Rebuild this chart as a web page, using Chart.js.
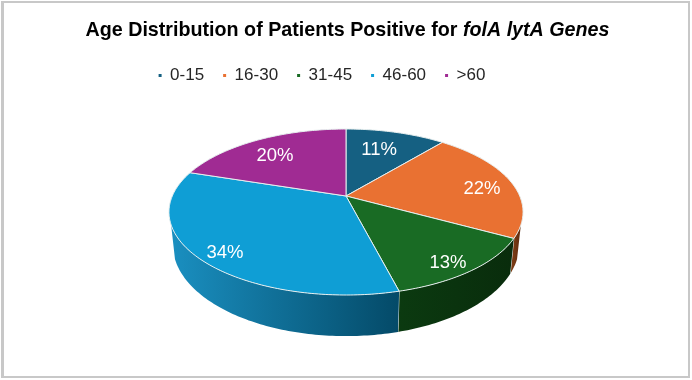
<!DOCTYPE html>
<html>
<head>
<meta charset="utf-8">
<script src="https://cdn.jsdelivr.net/npm/chart.js@4"></script>
<style>
  html, body { margin: 0; padding: 0; background: #fff; }
  #frame { position: absolute; left: 1px; top: 1px; width: 684px; height: 373px; border: solid #c8c8c8; border-width: 2px 2px 2px 3px; }
  #c { position: absolute; left: 0; top: 0; }
</style>
</head>
<body>
<div id="frame"></div>
<canvas id="c" width="692" height="380"></canvas>
<script>
const titleParts = ['Age Distribution of Patients Positive for ', 'folA lytA Genes'];
const ageGroups = ['0-15', '16-30', '31-45', '46-60', '>60'];
const patientShare = [11, 22, 13, 34, 20];
const sliceColors = ['#156082', '#E97132', '#196B24', '#0F9ED5', '#A02B93'];
// side wall gradient, light end on the left
const wallColors = [
    ['#156082', '#0a3a50'],
    ['#7a3a14', '#5c2a0e'],
    ['#0b3a10', '#092c0c'],
    ['#1a8fc0', '#044a68'],
    ['#A02B93', '#601a58']
];
// where each percent label sits: fraction of the radius, degrees off the slice middle
const labelRadius = [0.69, 0.803, 0.878, 0.873, 0.722];
const labelTurn = [-1.7, 4, 2.6, -2.2, -2.9];

// perspective of the tilted disc, fitted to the picture
const tilt = { cx: 346, cy: 196, a: 173.7, b: 79.9, k: 0.193 };
const base = { dy: 31.4, sx: 0.978, sy: 1.098 };
const wallFrom = 109.8 * Math.PI / 180 - Math.PI / 2;
const wallTo = 250.2 * Math.PI / 180 - Math.PI / 2;

function project(angle, r, face) {
    const u = Math.cos(angle) * r, v = Math.sin(angle) * r;
    const d = 1 - tilt.k * v;
    const sx = face ? base.sx : 1, sy = face ? base.sy : 1, dy = face ? base.dy : 0;
    return { x: tilt.cx + sx * tilt.a * u / d, y: tilt.cy + dy + sy * tilt.b * v / d };
}

function traceEdge(ctx, from, to, face, first) {
    const steps = Math.max(2, Math.ceil(Math.abs(to - from) * 60));
    for (let i = 0; i <= steps; i++) {
        const p = project(from + (to - from) * i / steps, 1, face);
        if (i === 0 && first) ctx.moveTo(p.x, p.y); else ctx.lineTo(p.x, p.y);
    }
}

const tiltedPie = {
    id: 'tiltedPie',
    beforeDatasetsDraw(chart) {
        const ctx = chart.ctx;
        const arcs = chart.getDatasetMeta(0).data;
        ctx.save();
        // side wall first, only the part facing the viewer
        arcs.forEach((arc, i) => {
            const from = Math.max(arc.startAngle, wallFrom), to = Math.min(arc.endAngle, wallTo);
            if (from >= to) return;
            const a = project(from, 1, false), b = project(to, 1, false);
            const g = ctx.createLinearGradient(Math.min(a.x, b.x), 0, Math.max(a.x, b.x), 0);
            g.addColorStop(0, wallColors[i][0]);
            g.addColorStop(1, wallColors[i][1]);
            ctx.beginPath();
            traceEdge(ctx, from, to, false, true);
            traceEdge(ctx, to, from, true, false);
            ctx.closePath();
            ctx.fillStyle = g;
            ctx.fill();
            // seam between wall pieces
            if (to < wallTo) {
                const c = project(to, 1, true);
                ctx.beginPath();
                ctx.moveTo(b.x, b.y);
                ctx.lineTo(c.x, c.y);
                ctx.strokeStyle = '#dfe8e8';
                ctx.lineWidth = 1;
                ctx.stroke();
            }
        });
        // top face
        arcs.forEach((arc) => {
            ctx.beginPath();
            ctx.moveTo(tilt.cx, tilt.cy);
            traceEdge(ctx, arc.startAngle, arc.endAngle, false, false);
            ctx.closePath();
            ctx.fillStyle = arc.options.backgroundColor;
            ctx.fill();
            ctx.strokeStyle = '#e6eeee';
            ctx.lineWidth = 1;
            ctx.lineJoin = 'round';
            ctx.stroke();
        });
        // percent labels
        ctx.fillStyle = '#ffffff';
        ctx.font = '18.5px "Liberation Sans", Arial, sans-serif';
        ctx.textAlign = 'center';
        ctx.textBaseline = 'middle';
        arcs.forEach((arc, i) => {
            const mid = (arc.startAngle + arc.endAngle) / 2 + labelTurn[i] * Math.PI / 180;
            const p = project(mid, labelRadius[i], false);
            ctx.fillText(patientShare[i] + '%', p.x, p.y);
        });
        ctx.restore();
        return false;
    },
    afterDraw(chart) {
        // Chart.js titles take one font only, the gene names are italic
        const ctx = chart.ctx;
        const bold = 'bold 19.7px "Liberation Sans", Arial, sans-serif';
        const boldItalic = 'italic bold 19.7px "Liberation Sans", Arial, sans-serif';
        ctx.save();
        ctx.fillStyle = '#000000';
        ctx.textBaseline = 'middle';
        ctx.textAlign = 'left';
        ctx.font = bold;
        const w1 = ctx.measureText(titleParts[0]).width;
        ctx.font = boldItalic;
        const w2 = ctx.measureText(titleParts[1]).width;
        const left = 347.5 - (w1 + w2) / 2;
        ctx.font = bold;
        ctx.fillText(titleParts[0], left, 31);
        ctx.font = boldItalic;
        ctx.fillText(titleParts[1], left + w1, 31);
        ctx.restore();
    }
};

new Chart(document.getElementById('c'), {
    type: 'pie',
    data: {
        labels: ageGroups,
        datasets: [{ data: patientShare, backgroundColor: sliceColors, borderWidth: 0 }]
    },
    plugins: [tiltedPie],
    options: {
        responsive: false,
        animation: false,
        layout: { padding: { top: 48, right: 48 } },
        plugins: {
            tooltip: { enabled: false },
            title: { display: false },
            legend: {
                position: 'top',
                labels: {
                    color: '#262626',
                    font: { family: '"Liberation Sans", Arial, sans-serif', size: 17 },
                    usePointStyle: true,
                    pointStyle: 'rect',
                    pointStyleWidth: 3,
                    boxHeight: 3,
                    padding: 19
                }
            }
        }
    }
});
</script>
</body>
</html>
